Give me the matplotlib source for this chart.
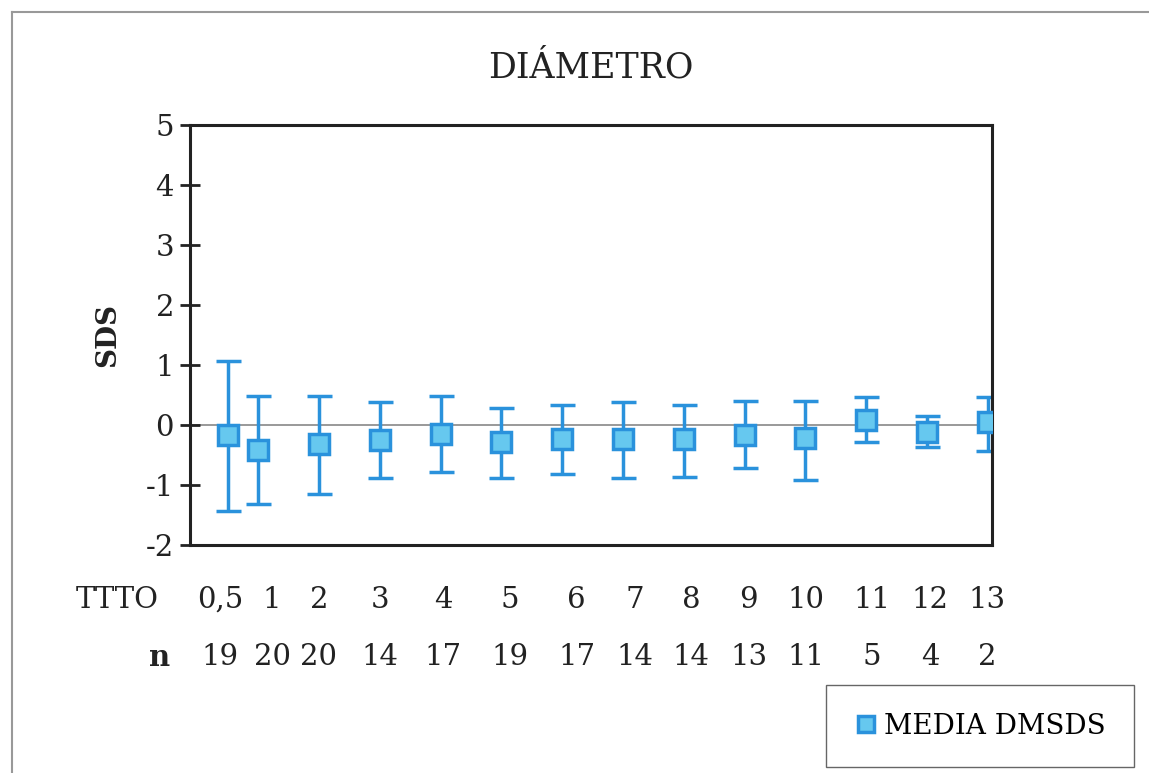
import matplotlib
matplotlib.use("Agg")
import matplotlib.pyplot as plt
from matplotlib.lines import Line2D

# data
ttto = [0.5, 1, 2, 3, 4, 5, 6, 7, 8, 9, 10, 11, 12, 13]
ttto_labels = ["0,5", "1", "2", "3", "4", "5", "6", "7", "8", "9", "10", "11", "12", "13"]
n_values = [19, 20, 20, 14, 17, 19, 17, 14, 14, 13, 11, 5, 4, 2]
media = [-0.16, -0.42, -0.31, -0.25, -0.15, -0.29, -0.24, -0.23, -0.23, -0.17, -0.22, 0.09, -0.11, 0.05]
upper = [1.06, 0.48, 0.48, 0.38, 0.48, 0.28, 0.33, 0.39, 0.33, 0.40, 0.40, 0.46, 0.15, 0.46]
lower = [-1.43, -1.32, -1.15, -0.89, -0.78, -0.88, -0.82, -0.88, -0.87, -0.71, -0.92, -0.28, -0.37, -0.43]
y_ticks = [-2, -1, 0, 1, 2, 3, 4, 5]

# where the table columns sit (x in data units), as laid out in the original
label_x = [0.37, 1.23, 2.0, 3.0, 4.04, 5.14, 6.24, 7.2, 8.12, 9.07, 10.01, 11.1, 12.05, 12.99]

plt.rcParams["font.family"] = ["DejaVu Serif"]

W, H = 1149, 773
fig = plt.figure(figsize=(W / 100, H / 100), dpi=100)
ax = fig.add_axes([190 / W, 1 - 545 / H, (992 - 190) / W, (545 - 125) / H])

err_lo = [m - lo for m, lo in zip(media, lower)]
err_hi = [hi - m for m, hi in zip(media, upper)]

line_col = "#2a92dc"
fill_col = "#66c8ef"
txt_col = "#222222"

ax.axhline(0, color="#888888", lw=1.2, zorder=1)
ax.errorbar(ttto, media, yerr=[err_lo, err_hi], fmt="none", ecolor=line_col,
            elinewidth=2.5, capsize=9, capthick=2.5, zorder=2)
ax.plot(ttto, media, "s", ms=14, mfc=fill_col, mec=line_col, mew=2.5,
        ls="none", label="MEDIA DMSDS", zorder=3)

ax.set_xlim(-0.12, 13.07)
ax.set_ylim(-2, 5)
ax.set_yticks(y_ticks)
ax.set_yticklabels([str(v) for v in y_ticks])
ax.set_xticks([])
ax.tick_params(axis="y", direction="inout", length=15, width=2, labelsize=21,
               pad=4, colors=txt_col)
for side in ["left", "right", "top", "bottom"]:
    ax.spines[side].set_linewidth(2.2)
    ax.spines[side].set_color(txt_col)

ax.set_ylabel("SDS", fontsize=20, fontweight="bold", labelpad=18, color=txt_col)
fig.text(591 / W, 1 - 68 / H, "DIÁMETRO", ha="center", va="center",
         fontsize=25, color=txt_col)

# table of TTTO and n under the axis
trans = ax.get_xaxis_transform()
row1 = -(600 - 545) / 420
row2 = -(657 - 545) / 420
ax.text(117 / W, 1 - 600 / H, "TTTO", transform=fig.transFigure, ha="center",
        va="center", fontsize=21, color=txt_col)
ax.text(160 / W, 1 - 657 / H, "n", transform=fig.transFigure, ha="center",
        va="center", fontsize=21, fontweight="bold", color=txt_col)
for x, lab, n in zip(label_x, ttto_labels, n_values):
    ax.text(x, row1, lab, transform=trans, ha="center", va="center",
            fontsize=21, color=txt_col)
    ax.text(x, row2, str(n), transform=trans, ha="center", va="center",
            fontsize=21, color=txt_col)

fig.legend(loc="center", bbox_to_anchor=(980 / W, 1 - 726 / H), fontsize=20,
           frameon=True, fancybox=False, edgecolor="#666666", framealpha=1,
           handletextpad=0.2, borderpad=1.0, handlelength=0.9, markerscale=0.85)

# scan border lines
fig.add_artist(Line2D([12 / W, 12 / W], [0, 1 - 12 / H], color="#999999", lw=1.5))
fig.add_artist(Line2D([12 / W, 1], [1 - 12 / H, 1 - 12 / H], color="#999999", lw=1.5))

fig.savefig("out.png", dpi=100)
